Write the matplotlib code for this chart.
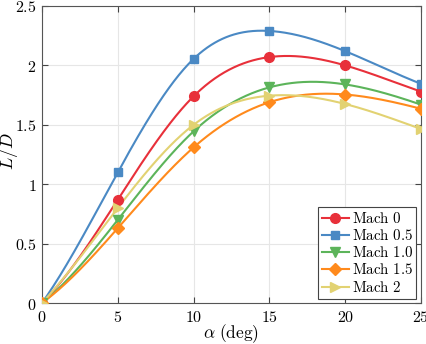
import numpy as np
import matplotlib
matplotlib.use("Agg")
import matplotlib.pyplot as plt
from matplotlib.ticker import FuncFormatter

plt.rcParams['mathtext.fontset'] = 'cm'
plt.rcParams['font.family'] = 'DejaVu Serif'

alpha = [0, 5, 10, 15, 20, 25]
mach_labels = ["Mach 0", "Mach 0.5", "Mach 1.0", "Mach 1.5", "Mach 2"]
ld_m0 = [0, 0.87, 1.74, 2.07, 2.00, 1.78]
ld_m05 = [0, 1.10, 2.055, 2.29, 2.12, 1.845]
ld_m10 = [0, 0.70, 1.445, 1.815, 1.84, 1.67]
ld_m15 = [0, 0.63, 1.31, 1.69, 1.755, 1.635]
ld_m2 = [0, 0.80, 1.50, 1.745, 1.675, 1.465]

colors = ['#E8303A', '#4A89C4', '#5CB45A', '#FF8A1C', '#E2D272']
markers = ['o', 's', 'v', 'D', '>']
msizes = [7, 6, 7, 6, 7]


def spline_notaknot(x, y, xq):
    x = np.asarray(x, float); y = np.asarray(y, float)
    n = len(x)
    h = np.diff(x)
    A = np.zeros((n, n)); b = np.zeros(n)
    for i in range(1, n - 1):
        A[i, i - 1] = h[i - 1]
        A[i, i] = 2 * (h[i - 1] + h[i])
        A[i, i + 1] = h[i]
        b[i] = 6 * ((y[i + 1] - y[i]) / h[i] - (y[i] - y[i - 1]) / h[i - 1])
    A[0, 0] = h[1]; A[0, 1] = -(h[0] + h[1]); A[0, 2] = h[0]
    A[-1, -3] = h[-1]; A[-1, -2] = -(h[-2] + h[-1]); A[-1, -1] = h[-2]
    M = np.linalg.solve(A, b)
    out = np.empty_like(xq)
    for k, xv in enumerate(xq):
        i = min(max(np.searchsorted(x, xv) - 1, 0), n - 2)
        t0 = x[i + 1] - xv; t1 = xv - x[i]
        out[k] = (M[i] * t0**3 + M[i + 1] * t1**3) / (6 * h[i]) \
            + (y[i] / h[i] - M[i] * h[i] / 6) * t0 \
            + (y[i + 1] / h[i] - M[i + 1] * h[i] / 6) * t1
    return out


fig = plt.figure(figsize=(4.27, 3.44), dpi=100)
ax = fig.add_axes([42 / 427, 1 - 303 / 344, 379 / 427, 297 / 344])

xs = np.linspace(0, 25, 400)
series = [ld_m0, ld_m05, ld_m10, ld_m15, ld_m2]
for ys, c, m, ms, lab in zip(series, colors, markers, msizes, mach_labels):
    ax.plot(xs, spline_notaknot(alpha, ys, xs), color=c, lw=1.5, zorder=3)
    ax.plot(alpha, ys, linestyle='none', marker=m, color=c, ms=ms, zorder=4)
    ax.plot([], [], color=c, lw=1.5, marker=m, ms=ms, label=r'$\mathrm{' + lab.replace(' ', r'\ ') + '}$')

ax.set_xlim(0, 25)
ax.set_ylim(0, 2.5)
ax.set_xticks([0, 5, 10, 15, 20, 25])
ax.set_yticks([0, 0.5, 1, 1.5, 2, 2.5])
fmt = FuncFormatter(lambda v, p: '$%g$' % v)
ax.xaxis.set_major_formatter(fmt)
ax.yaxis.set_major_formatter(fmt)
ax.tick_params(direction='in', top=True, right=True, labelsize=11.5, color='#444444', length=4, pad=4)
ax.grid(True, color='#e6e6e6', lw=0.8)
ax.set_axisbelow(True)
for s in ax.spines.values():
    s.set_color('#555555'); s.set_linewidth(0.8)
ax.set_xlabel(r'$\alpha\ \mathrm{(deg)}$', fontsize=12.5)
ax.set_ylabel(r'$L/D$', fontsize=13)
ax.xaxis.set_label_coords(0.5, -0.066)
ax.yaxis.set_label_coords(-0.057, 0.51)

leg = ax.legend(loc='lower right', fontsize=10.8, fancybox=False, framealpha=1,
                edgecolor='#444444', handlelength=1.8, handletextpad=0.2,
                borderpad=0.25, labelspacing=0.15, borderaxespad=0.3)
leg.get_frame().set_linewidth(0.8)

fig.savefig('out.png', dpi=100)
